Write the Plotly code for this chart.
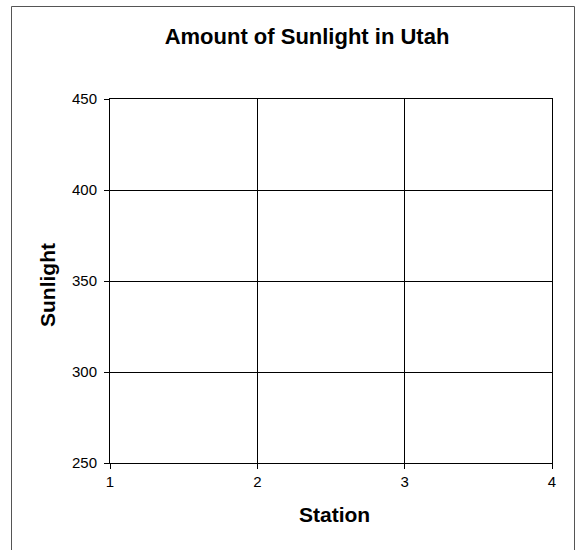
import plotly.graph_objects as go

# Data (chart has no plotted series)
stations = []
sunlight = []
x_ticks = [1, 2, 3, 4]
y_ticks = [250, 300, 350, 400, 450]
title_text = "Amount of Sunlight in Utah"
x_title = "Station"
y_title = "Sunlight"

FONT = "Liberation Sans, Arial, sans-serif"

fig = go.Figure()
fig.add_trace(go.Scatter(x=stations, y=sunlight, mode="markers", showlegend=False))

W, H = 580, 550
L, R, T, B = 110, 28, 99, 87
pw, ph = W - L - R, H - T - B

def px_to_paper_x(px):
    return (px - L) / pw

def px_to_paper_y(py):
    return (H - B - py) / ph

axis_common = dict(
    ticks="outside", ticklen=5, tickcolor="black", tickwidth=1,
    showline=True, linecolor="black", linewidth=1, mirror=True,
    showgrid=True, gridcolor="black", gridwidth=1, zeroline=False,
    tickfont=dict(size=15, family=FONT, color="black"),
)

fig.update_layout(
    width=W, height=H,
    margin=dict(l=L, r=R, t=T, b=B, autoexpand=False),
    paper_bgcolor="white", plot_bgcolor="white",
    showlegend=False,
    title=dict(text="<b>" + title_text + "</b>", x=307 / W, xref="container",
               xanchor="center", y=1 - 36 / H, yref="container", yanchor="middle",
               font=dict(family=FONT, size=22, color="black")),
    font=dict(family=FONT, color="black"),
    xaxis=dict(range=[x_ticks[0], x_ticks[-1]], tickvals=x_ticks, **axis_common),
    yaxis=dict(range=[y_ticks[0], y_ticks[-1]], tickvals=y_ticks,
               ticklabelstandoff=4, **axis_common),
)

fig.add_annotation(text="<b>" + x_title + "</b>", xref="paper", yref="paper",
                   x=px_to_paper_x(334), y=px_to_paper_y(514), xanchor="center",
                   yanchor="middle", showarrow=False,
                   font=dict(size=21, family=FONT, color="black"))
fig.add_annotation(text="<b>" + y_title + "</b>", xref="paper", yref="paper",
                   x=px_to_paper_x(47), y=px_to_paper_y(285), xanchor="center",
                   yanchor="middle", showarrow=False, textangle=-90,
                   font=dict(size=21, family=FONT, color="black"))

# outer chart border (extends past bottom edge as in reference)
fig.add_shape(type="rect", xref="paper", yref="paper",
              x0=px_to_paper_x(11.5), x1=px_to_paper_x(574.5),
              y0=px_to_paper_y(620), y1=px_to_paper_y(6.5),
              line=dict(color="#555", width=1), fillcolor="rgba(0,0,0,0)", layer="below")

fig.write_html("out.html", config={"displayModeBar": False},
               post_script="document.body.style.margin='0';")
